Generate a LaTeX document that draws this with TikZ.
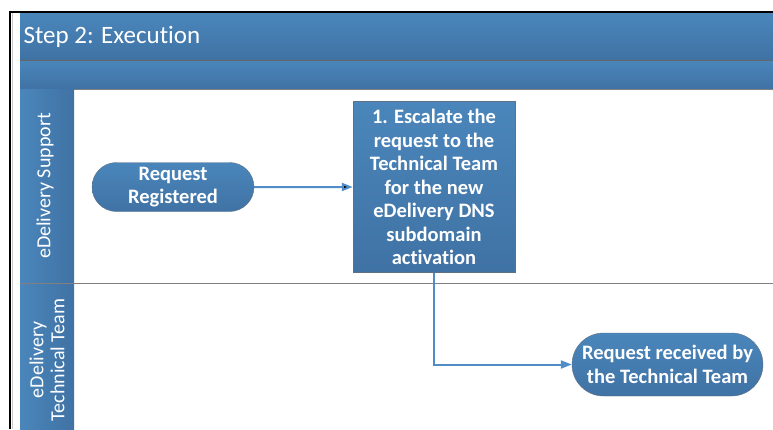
\documentclass[tikz,border=0pt]{standalone}
\usepackage{fontspec}
\setmainfont[Ligatures={NoCommon}]{Carlito}
\usetikzlibrary{positioning, arrows.meta, shapes.misc}
\definecolor{laneblue}{HTML}{4A86BB}
\definecolor{lanedark}{HTML}{4072A4}
\definecolor{flowline}{HTML}{4F8CC8}
\definecolor{shapeedge}{HTML}{5E7184}
\definecolor{laneline}{HTML}{808080}

\begin{document}
\begin{tikzpicture}[x=1pt, y=-1pt,
    bar/.style={top color=laneblue, bottom color=lanedark, draw=none},
    lanehead/.style={left color=laneblue, right color=lanedark, draw=none},
    lanetext/.style={text=white, rotate=90, align=center, font=\fontsize{20}{21}\selectfont},
    terminal/.style={rounded rectangle, top color=laneblue, bottom color=lanedark,
        draw=shapeedge, line width=0.4pt, text=white, align=center,
        font=\fontsize{20.5}{23.5}\selectfont\bfseries, inner sep=0pt},
    process/.style={rectangle, top color=laneblue, bottom color=lanedark,
        draw=shapeedge, line width=0.4pt, text=white, align=center,
        font=\fontsize{20.5}{23.5}\selectfont\bfseries, inner sep=0pt},
    flow/.style={draw=flowline, line width=2pt, -{Triangle[length=11pt, width=8pt]}}]
    \useasboundingbox (0,0) rectangle (773,429);
    % frame and bars
    \fill[bar] (20,13) rectangle (773,60);
    \fill[bar] (20,60) rectangle (773,89);
    \draw[black!60, line width=0.8pt] (20,60) -- (773,60);
    \draw[black!50, line width=0.8pt] (20,89) -- (773,89);
    \draw[black, line width=2pt] (9,12) -- (773,12);
    \draw[black, line width=2pt] (10,11) -- (10,429);
    \draw[black!20, line width=1pt] (12,13) -- (12,429);
    \node[text=white, anchor=west, font=\fontsize{25}{28}\selectfont] (title) at (20,37) {Step 2: Execution};
    % lanes
    \fill[lanehead] (20,89) rectangle (74,435);
    \draw[laneline, line width=1pt] (20,283) -- (773,283);
    \node[lanetext] (support) at (45,186) {eDelivery Support};
    \node[lanetext] (techteam) at (47,360) {eDelivery\\Technical Team};
    % shapes
    \node[terminal, minimum width=162pt, minimum height=49pt] (registered) at (173,187) {Request\\Registered};
    \node[process, minimum width=162pt, minimum height=171pt] (escalate) at (434,187)
        {1. Escalate the\\request to the\\Technical Team\\for the new\\eDelivery DNS\\subdomain\\activation};
    \node[terminal, minimum width=191pt, minimum height=63pt] (received) at (667.5,364.5)
        {Request received by\\the Technical Team};
    % connectors
    \path[flow] (registered) edge (escalate);
    \draw[flow] (escalate) |- (received);
\end{tikzpicture}
\end{document}
